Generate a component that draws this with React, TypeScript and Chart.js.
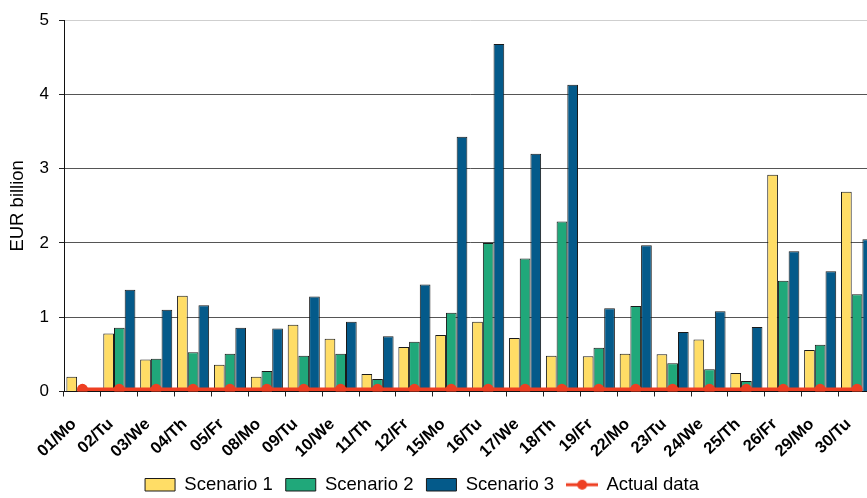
import React, { useEffect, useRef } from 'react';
import { Chart, registerables } from 'chart.js';

Chart.register(...registerables);

const categories = [
  '01/Mo', '02/Tu', '03/We', '04/Th', '05/Fr',
  '08/Mo', '09/Tu', '10/We', '11/Th', '12/Fr',
  '15/Mo', '16/Tu', '17/We', '18/Th', '19/Fr',
  '22/Mo', '23/Tu', '24/We', '25/Th', '26/Fr',
  '29/Mo', '30/Tu',
];

const scenario1 = [
  0.2, 0.78, 0.43, 1.29, 0.36,
  0.2, 0.9, 0.71, 0.235, 0.6,
  0.76, 0.94, 0.72, 0.48, 0.475,
  0.51, 0.5, 0.7, 0.25, 2.92,
  0.56, 2.69,
];

const scenario2 = [
  null, 0.86, 0.44, 0.53, 0.51,
  0.275, 0.48, 0.51, 0.17, 0.67,
  1.06, 2.0, 1.79, 2.29, 0.59,
  1.15, 0.38, 0.3, 0.14, 1.49,
  0.63, 1.31,
];

const scenario3 = [
  null, 1.37, 1.1, 1.16, 0.86,
  0.85, 1.28, 0.94, 0.745, 1.44,
  3.43, 4.68, 3.2, 4.13, 1.12,
  1.97, 0.8, 1.08, 0.87, 1.89,
  1.62, 2.05,
];

const actualData = [
  0.03, 0.03, 0.03, 0.03, 0.03,
  0.03, 0.03, 0.03, 0.03, 0.03,
  0.03, 0.03, 0.03, 0.03, 0.03,
  0.03, 0.03, 0.03, 0.03, 0.03,
  0.03, 0.03,
];

const seriesNames = ['Scenario 1', 'Scenario 2', 'Scenario 3', 'Actual data'];
const yMin = 0;
const yMax = 5;
const yStep = 1;

const YELLOW = '#FFDD66';
const GREEN = '#20A87A';
const BLUE = '#045A8A';
const RED = '#EE3F22';
const EDGE = '#1a1a1a';
const FONT = '"Liberation Sans", Arial, Helvetica, sans-serif';
const CANVAS_W = 881;
const CANVAS_H = 498;

function makeLineIcon(): HTMLCanvasElement {
  const c = document.createElement('canvas');
  c.width = 32;
  c.height = 12;
  const ctx = c.getContext('2d');
  if (ctx) {
    ctx.strokeStyle = RED;
    ctx.lineWidth = 3;
    ctx.beginPath();
    ctx.moveTo(0, 6);
    ctx.lineTo(32, 6);
    ctx.stroke();
    ctx.fillStyle = RED;
    ctx.beginPath();
    ctx.arc(16, 6, 5, 0, Math.PI * 2);
    ctx.fill();
  }
  return c;
}

const legendShift = {
  id: 'legendShift',
  afterUpdate(chart: any) {
    const l = chart.legend;
    if (!l) return;
    l.left -= 18.5;
    l.right -= 18.5;
    l.top -= 9;
    l.bottom -= 9;
  },
};

export default function App() {
  const canvasRef = useRef<HTMLCanvasElement | null>(null);

  useEffect(() => {
    document.documentElement.style.margin = '0';
    document.documentElement.style.overflow = 'hidden';
    document.body.style.margin = '0';
    document.body.style.overflow = 'hidden';
    const canvas = canvasRef.current;
    if (!canvas) return;
    const lineIcon = makeLineIcon();

    const chart = new Chart(canvas, {
      type: 'bar',
      data: {
        labels: categories,
        datasets: [
          {
            label: seriesNames[0],
            data: scenario1,
            backgroundColor: YELLOW,
            borderColor: EDGE,
            borderWidth: 1,
            categoryPercentage: 0.87,
            barPercentage: 1,
          } as any,
          {
            label: seriesNames[1],
            data: scenario2,
            backgroundColor: GREEN,
            borderColor: EDGE,
            borderWidth: 1,
            categoryPercentage: 0.87,
            barPercentage: 1,
          },
          {
            label: seriesNames[2],
            data: scenario3,
            backgroundColor: BLUE,
            borderColor: EDGE,
            borderWidth: 1,
            categoryPercentage: 0.87,
            barPercentage: 1,
          },
          {
            type: 'line',
            label: seriesNames[3],
            data: actualData,
            borderColor: RED,
            backgroundColor: RED,
            borderWidth: 3.5,
            pointRadius: 5.5,
            pointBorderWidth: 0,
            pointBackgroundColor: RED,
            pointStyle: 'circle',
            order: -1,
            tension: 0,
          },
        ],
      },
      options: {
        responsive: false,
        animation: false,
        events: [],
        layout: { padding: { top: 16, left: 0, right: 0, bottom: -15 } },
        scales: {
          x: {
            grid: {
              offset: true,
              drawOnChartArea: false,
              drawTicks: true,
              tickLength: 5,
              tickColor: '#222',
            },
            border: { color: '#111', width: 1 },
            ticks: {
              autoSkip: false,
              minRotation: 44,
              maxRotation: 44,
              padding: 18,
              labelOffset: -8.5,
              color: '#000',
              font: { family: FONT, size: 16.5, weight: 'bold' },
            },
            afterFit(scale: any) {
              scale.height = 80;
              scale.paddingLeft = 0;
              scale.paddingRight = 0;
            },
          },
          y: {
            min: yMin,
            max: yMax,
            ticks: {
              stepSize: yStep,
              padding: 10,
              color: '#000',
              font: { family: FONT, size: 17 },
            },
            grid: {
              color: (ctx: any) => (ctx.tick && ctx.tick.value === yMax ? '#cfcfcf' : '#555'),
              lineWidth: 1,
              tickLength: 5,
              tickColor: '#222',
            },
            border: { color: '#111', width: 1 },
            title: {
              display: true,
              text: 'EUR billion',
              color: '#000',
              font: { family: FONT, size: 18.5 },
              padding: { top: 7, bottom: 0 },
            },
            afterFit(scale: any) {
              scale.width = 64;
            },
          },
        },
        plugins: {
          tooltip: { enabled: false },
          legend: {
            display: true,
            position: 'bottom',
            labels: {
              usePointStyle: true,
              pointStyleWidth: 30,
              boxWidth: 30,
              boxHeight: 12.5,
              padding: 13,
              color: '#000',
              font: { family: FONT, size: 18.5 },
              generateLabels(ch: any) {
                const items = Chart.defaults.plugins.legend.labels.generateLabels(ch);
                items.sort((a: any, b: any) => a.datasetIndex - b.datasetIndex);
                return items.map((it: any) => {
                  if (it.datasetIndex === 3) {
                    return { ...it, pointStyle: lineIcon, lineWidth: 0 };
                  }
                  return { ...it, pointStyle: 'rect', lineWidth: 1, strokeStyle: EDGE };
                });
              },
            },
          },
        },
      },
      plugins: [legendShift],
    } as any);

    return () => {
      chart.destroy();
    };
  }, []);

  return (
    <div style={{ position: 'relative', width: 867, height: 498, overflow: 'hidden', background: '#fff' }}>
      <canvas
        ref={canvasRef}
        width={CANVAS_W}
        height={CANVAS_H}
        style={{ display: 'block', width: CANVAS_W, height: CANVAS_H }}
      />
    </div>
  );
}
